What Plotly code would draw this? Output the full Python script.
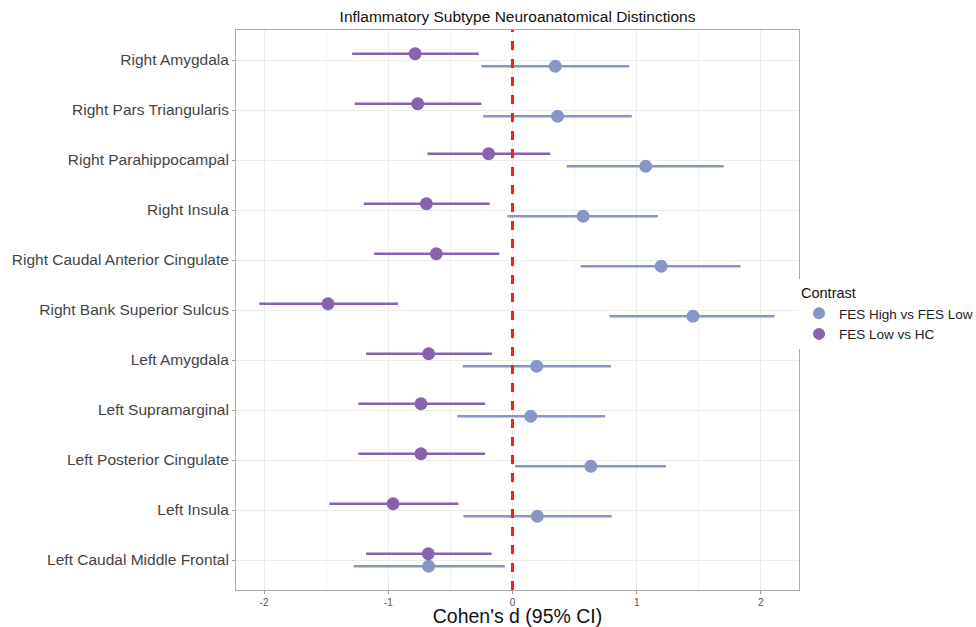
import plotly.graph_objects as go

regions = ["Left Caudal Middle Frontal", "Left Insula", "Left Posterior Cingulate",
           "Left Supramarginal", "Left Amygdala", "Right Bank Superior Sulcus",
           "Right Caudal Anterior Cingulate", "Right Insula", "Right Parahippocampal",
           "Right Pars Triangularis", "Right Amygdala"]

# FES High vs FES Low
high_d = [-0.675, 0.200, 0.631, 0.147, 0.195, 1.453, 1.197, 0.569, 1.073, 0.363, 0.345]
high_lo = [-1.279, -0.395, 0.021, -0.445, -0.401, 0.781, 0.548, -0.041, 0.436, -0.236, -0.250]
high_hi = [-0.062, 0.799, 1.235, 0.746, 0.793, 2.110, 1.836, 1.170, 1.701, 0.961, 0.940]

# FES Low vs HC
low_d = [-0.678, -0.961, -0.737, -0.737, -0.675, -1.485, -0.613, -0.693, -0.192, -0.763, -0.784]
low_lo = [-1.179, -1.474, -1.241, -1.241, -1.179, -2.039, -1.114, -1.197, -0.684, -1.270, -1.291]
low_hi = [-0.168, -0.436, -0.221, -0.221, -0.165, -0.922, -0.106, -0.183, 0.304, -0.250, -0.271]

series_names = ["FES High vs FES Low", "FES Low vs HC"]
colors = ["#8795c9", "#8762ad"]
x_ticks = [-2, -1, 0, 1, 2]

W, H = 976, 627
L, T, R, B = 236, 30, 177, 37

fig = go.Figure()
offsets = [-0.125, 0.125]
for name, d, lo, hi, col, off in zip(series_names, [high_d, low_d], [high_lo, low_lo],
                                      [high_hi, low_hi], colors, offsets):
    ys = [i + off for i in range(len(regions))]
    fig.add_trace(go.Scatter(
        x=d, y=ys, mode="markers", name=name,
        marker=dict(color=col, size=13),
        error_x=dict(type="data", symmetric=False,
                     array=[h - v for h, v in zip(hi, d)],
                     arrayminus=[v - l for v, l in zip(d, lo)],
                     width=0, thickness=2.5, color=col),
    ))

fig.add_shape(type="line", x0=0, x1=0, y0=0, y1=1, xref="x", yref="paper",
              line=dict(color="#ff1a1a", width=3, dash="dash"))

fig.update_layout(
    width=W, height=H,
    paper_bgcolor="white", plot_bgcolor="white",
    font=dict(family="Liberation Sans, Arial, sans-serif", color="#222"),
    margin=dict(l=L, r=R, t=T, b=B, autoexpand=False),
    title=dict(text="Inflammatory Subtype Neuroanatomical Distinctions",
               x=(L + (W - R)) / 2 / W, xanchor="center", y=1 - 17 / H, yanchor="middle",
               font=dict(size=15.5, color="#111")),
    legend=dict(title=dict(text="Contrast", font=dict(size=14.5, color="#111")),
                x=1.0, xanchor="left", y=0.555, yanchor="top",
                font=dict(size=13.5, color="#222"), tracegroupgap=0,
                itemsizing="constant"),
    showlegend=True,
)
fig.update_xaxes(
    range=[-2.226, 2.307], tickvals=x_ticks, ticktext=[str(t) for t in x_ticks],
    tickfont=dict(size=10, color="#555"),
    showgrid=True, gridcolor="#ebebeb", gridwidth=1,
    minor=dict(dtick=0.5, showgrid=True, gridcolor="#f4f4f4", gridwidth=1),
    zeroline=False, showline=True, linecolor="#aaa", mirror=True, linewidth=1,
    ticks="outside", ticklen=3, tickcolor="#999", automargin=False,
    title=dict(text="Cohen's d (95% CI)", font=dict(size=19.5, color="#111"), standoff=9),
)
fig.update_yaxes(
    range=[-0.6, 10.6], tickvals=list(range(len(regions))), ticktext=regions,
    tickfont=dict(size=15.5, color="#444"),
    showgrid=True, gridcolor="#ebebeb", gridwidth=1,
    zeroline=False, showline=True, linecolor="#aaa", mirror=True, linewidth=1,
    ticks="outside", ticklen=3, tickcolor="#999", automargin=False,
)

fig.write_html("out.html", config={"displayModeBar": False},
               post_script="document.body.style.margin='0';document.body.style.overflow='hidden';")
